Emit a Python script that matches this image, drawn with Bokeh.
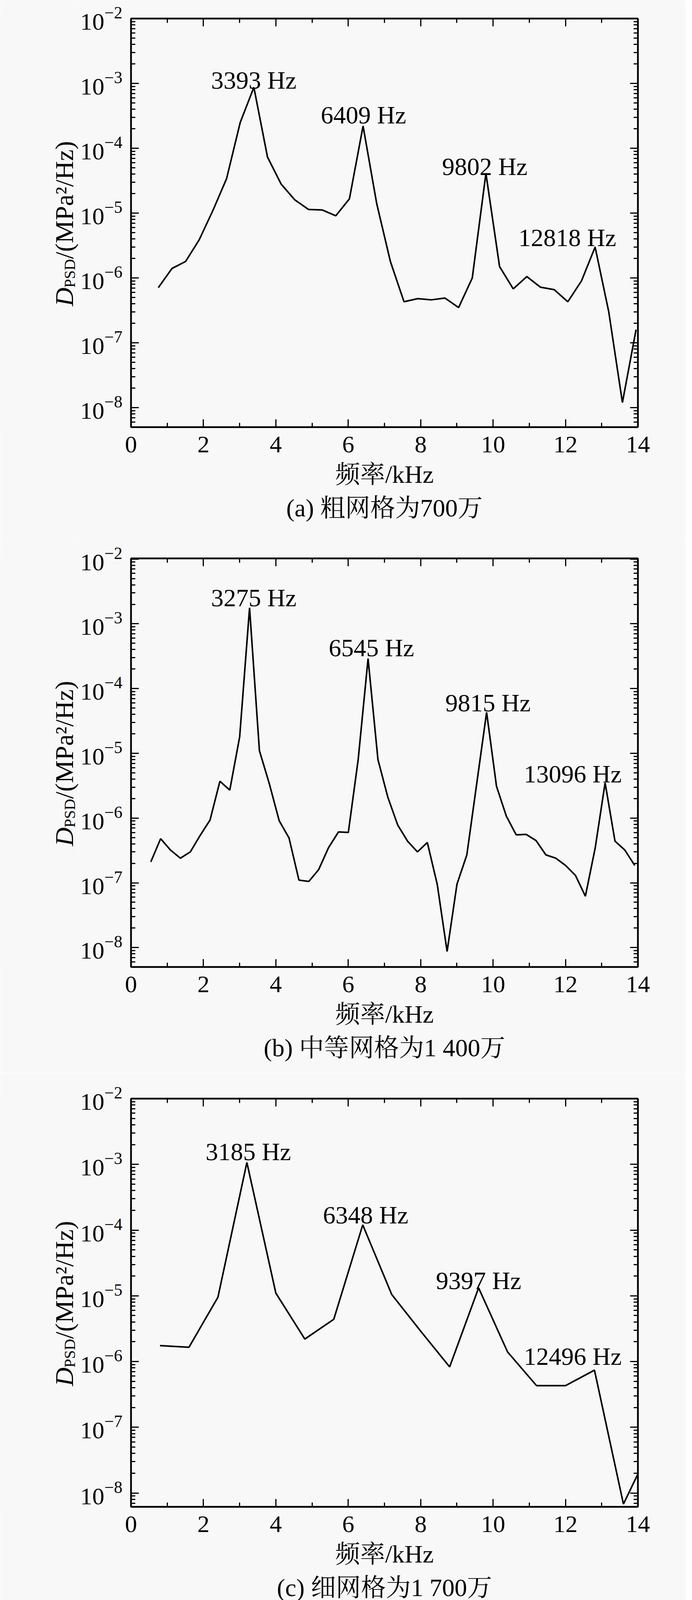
import math
from bokeh.plotting import figure
from bokeh.models import (Label, LinearAxis, LogAxis, FixedTicker,
                          CustomJSTickFormatter, Range1d)
from bokeh.core.properties import value
from bokeh.layouts import column, row
from bokeh.embed import file_html
from bokeh.resources import INLINE

# ---------------- data (frequency in kHz, PSD in MPa^2/Hz) ----------------
freq_a = [0.754, 1.131, 1.508, 1.885, 2.262, 2.639, 3.016, 3.393, 3.770, 4.147,
          4.524, 4.901, 5.278, 5.655, 6.032, 6.409, 6.786, 7.163, 7.540, 7.917,
          8.294, 8.671, 9.048, 9.425, 9.802, 10.179, 10.556, 10.933, 11.310,
          11.687, 12.064, 12.441, 12.818, 13.195, 13.572, 13.949]
psd_a = [7.1e-7, 1.4e-6, 1.8e-6, 3.9e-6, 1.1e-5, 3.4e-5, 2.5e-4, 8.7e-4, 7.3e-5,
         2.8e-5, 1.6e-5, 1.14e-5, 1.12e-5, 9.1e-6, 1.66e-5, 2.2e-4, 1.4e-5,
         1.8e-6, 4.3e-7, 4.8e-7, 4.6e-7, 4.9e-7, 3.5e-7, 1.0e-6, 4.1e-5, 1.5e-6,
         6.8e-7, 1.05e-6, 7.2e-7, 6.6e-7, 4.3e-7, 9.0e-7, 3.0e-6, 3.0e-7, 1.2e-8,
         1.6e-7]

freq_b = [0.546, 0.818, 1.091, 1.364, 1.637, 1.910, 2.182, 2.455, 2.728, 3.001,
          3.274, 3.546, 3.819, 4.092, 4.365, 4.638, 4.910, 5.183, 5.456, 5.729,
          6.002, 6.274, 6.547, 6.820, 7.093, 7.366, 7.638, 7.911, 8.184, 8.457,
          8.730, 9.002, 9.275, 9.548, 9.821, 10.094, 10.366, 10.639, 10.912,
          11.185, 11.458, 11.730, 12.003, 12.276, 12.549, 12.822, 13.094, 13.367,
          13.640, 13.913]
psd_b = [2.1e-7, 4.8e-7, 3.2e-7, 2.4e-7, 3.0e-7, 5.4e-7, 9.3e-7, 3.7e-6, 2.7e-6,
         1.8e-5, 1.77e-3, 1.1e-5, 3.4e-6, 9.1e-7, 4.9e-7, 1.1e-7, 1.05e-7, 1.6e-7,
         3.5e-7, 6.1e-7, 6.0e-7, 8.0e-6, 2.9e-4, 8.0e-6, 2.1e-6, 7.8e-7, 4.4e-7,
         3.0e-7, 4.2e-7, 9.5e-8, 8.7e-9, 9.5e-8, 2.7e-7, 3.4e-6, 4.3e-5, 3.1e-6,
         1.07e-6, 5.5e-7, 5.6e-7, 4.5e-7, 2.7e-7, 2.4e-7, 1.85e-7, 1.3e-7, 6.2e-8,
         3.5e-7, 3.5e-6, 4.4e-7, 3.2e-7, 1.85e-7]

freq_c = [0.8, 1.6, 2.4, 3.2, 4.0, 4.8, 5.6, 6.4, 7.2, 8.0, 8.8, 9.6, 10.4, 11.2,
          12.0, 12.8, 13.6, 14.0]
psd_c = [1.75e-6, 1.65e-6, 9.5e-6, 1.07e-3, 1.1e-5, 2.2e-6, 4.4e-6, 1.2e-4,
         1.05e-5, 2.9e-6, 8.3e-7, 1.32e-5, 1.4e-6, 4.3e-7, 4.3e-7, 7.4e-7, 6.8e-9,
         1.95e-8]

peaks_a = ["3393 Hz", "6409 Hz", "9802 Hz", "12818 Hz"]
peaks_b = ["3275 Hz", "6545 Hz", "9815 Hz", "13096 Hz"]
peaks_c = ["3185 Hz", "6348 Hz", "9397 Hz", "12496 Hz"]

captions = ["(a) 粗网格为700万", "(b) 中等网格为1 400万", "(c) 细网格为1 700万"]
x_title = "频率/kHz"
y_title_main, y_title_sub, y_title_rest = "D", "PSD", "/(MPa²/Hz)"
x_ticks = [0, 2, 4, 6, 8, 10, 12, 14]
x_minor = [1, 3, 5, 7, 9, 11, 13]
y_decades = [-8, -7, -6, -5, -4, -3, -2]

# ---------------- layout / style ----------------
SERIF = "Liberation Serif"
CJK = "Liberation Serif, Noto Serif CJK SC, Noto Sans CJK SC, sans-serif"
BG = "#f8f8f8"
PAGE_W, BLOCK_H = 1756, 1373
LEFT_W = 200            # strip holding the rotated y title
MAIN_W = PAGE_W - LEFT_W
FRAME_W = 1298
B_LEFT, B_RIGHT = 135, 123

# label anchors: (x centre in kHz, log10 of baseline)
anchors_a = [(3.39, -2.95), (6.42, -3.49), (9.77, -4.28), (12.05, -5.38)]
anchors_b = [(3.39, -2.60), (6.64, -3.37), (9.86, -4.22), (12.20, -5.32)]
anchors_c = [(3.24, -2.81), (6.48, -3.77), (9.60, -4.77), (12.20, -5.92)]

panels = [
    dict(f=freq_a, v=psd_a, names=peaks_a, anch=anchors_a, cap=captions[0],
         top=47, H=1046, ylo=-8.30, yhi=-2.00),
    dict(f=freq_b, v=psd_b, names=peaks_b, anch=anchors_b, cap=captions[1],
         top=56, H=1046, ylo=-8.30, yhi=-1.99),
    dict(f=freq_c, v=psd_c, names=peaks_c, anch=anchors_c, cap=captions[2],
         top=66, H=1045, ylo=-8.21, yhi=-2.00),
]

y_major = [10.0 ** e for e in y_decades]
y_minor = [m * 10.0 ** e for e in range(-9, -1) for m in range(2, 10)]

empty_fmt = "return ''"


def style_axis(ax, labels=True):
    ax.axis_line_width = 4
    ax.axis_line_color = "black"
    ax.major_tick_in = 20
    ax.major_tick_out = 0
    ax.minor_tick_in = 11
    ax.minor_tick_out = 0
    ax.major_tick_line_width = 3
    ax.minor_tick_line_width = 3
    ax.major_tick_line_color = "black"
    ax.minor_tick_line_color = "black"
    if labels:
        ax.major_label_text_font = SERIF
        ax.major_label_text_font_size = "62px"
        ax.major_label_text_color = "black"
    else:
        ax.major_label_text_font_size = "0px"
        ax.major_label_standoff = 0


def text_canvas(w, h, y0, y1):
    """Plain strip; its frame lines up with the neighbouring plot frame,
    so the y range is given in pixels from the block bottom (y0..y1)."""
    t = figure(width=w, height=h, x_range=Range1d(0, w), y_range=Range1d(y0, y1),
               x_axis_location=None, y_axis_location=None,
               output_backend="svg", toolbar_location=None, min_border=0)
    t.background_fill_color = BG
    t.border_fill_color = BG
    t.outline_line_color = None
    t.xgrid.visible = False
    t.ygrid.visible = False
    return t


def make_block(d):
    H = d["H"]
    ylo, yhi = d["ylo"], d["yhi"]
    bottom_border = BLOCK_H - d["top"] - H
    p = figure(width=MAIN_W, height=BLOCK_H, y_axis_type="log",
               x_range=Range1d(0, 14), y_range=Range1d(10 ** ylo, 10 ** yhi),
               output_backend="svg", toolbar_location=None,
               min_border_left=B_LEFT, min_border_right=B_RIGHT,
               min_border_top=d["top"], min_border_bottom=bottom_border)
    p.background_fill_color = BG
    p.border_fill_color = BG
    p.outline_line_color = "black"
    p.outline_line_width = 4
    p.xgrid.visible = False
    p.ygrid.visible = False

    xt = FixedTicker(ticks=x_ticks, minor_ticks=x_minor)
    yt = FixedTicker(ticks=y_major, minor_ticks=y_minor)

    xa = p.xaxis[0]
    xa.ticker = xt
    style_axis(xa)
    xa.major_label_standoff = 24
    xa.axis_label = x_title
    xa.axis_label_text_font = CJK
    xa.axis_label_text_font_size = "64px"
    xa.axis_label_text_font_style = "normal"
    xa.axis_label_text_color = "black"
    xa.axis_label_standoff = 18

    # caption: label of an extra, tick-less axis stacked below
    cap_ax = LinearAxis(ticker=FixedTicker(ticks=[]), axis_label=d["cap"],
                        axis_line_color=None, major_tick_line_color=None,
                        minor_tick_line_color=None)
    cap_ax.major_label_text_font_size = "0px"
    cap_ax.major_label_standoff = 0
    cap_ax.major_tick_out = 0
    cap_ax.minor_tick_out = 0
    cap_ax.axis_label_text_font = CJK
    cap_ax.axis_label_text_font_size = "64px"
    cap_ax.axis_label_text_font_style = "normal"
    cap_ax.axis_label_text_color = "black"
    cap_ax.axis_label_standoff = 12
    p.add_layout(cap_ax, "below")

    ya = p.yaxis[0]
    ya.ticker = yt
    style_axis(ya)
    ya.major_label_standoff = 22

    top = LinearAxis(ticker=xt, formatter=CustomJSTickFormatter(code=empty_fmt))
    style_axis(top, labels=False)
    p.add_layout(top, "above")
    right = LogAxis(ticker=yt, formatter=CustomJSTickFormatter(code=empty_fmt))
    style_axis(right, labels=False)
    p.add_layout(right, "right")

    p.line(d["f"], d["v"], line_color="black", line_width=4)

    for name, (xc, yb) in zip(d["names"], d["anch"]):
        p.add_layout(Label(x=xc, y=10 ** yb, text=name, text_font=SERIF,
                           text_font_size="64px", text_align="center",
                           text_baseline="alphabetic", text_color="black"))

    # ---- left strip: rotated y title D_PSD/(MPa²/Hz), drawn as text glyphs
    left = text_canvas(LEFT_W, BLOCK_H, bottom_border, BLOCK_H - d["top"])
    base_x = LEFT_W + B_LEFT - 171       # baseline of the main letters
    F, f_sub = 66, 40
    pieces = [
        (y_title_main, F, "italic", 0, 0.722 * F),
        (y_title_sub, f_sub, "normal", 14, 1.834 * f_sub),
        (y_title_rest, F, "normal", 0, 4.577 * F),
    ]
    total = sum(pc[4] for pc in pieces)
    centre_from_bottom = BLOCK_H - (d["top"] + H / 2) - 2
    pos = centre_from_bottom - total / 2
    for txt, size, style, dx, w in pieces:
        left.text(x=[base_x + dx], y=[pos], text=[txt], angle=math.pi / 2,
                  text_font=value(SERIF), text_font_size=value(f"{size}px"),
                  text_font_style=value(style), text_align="left",
                  text_baseline="alphabetic", text_color="black")
        pos += w
    return row(left, p, spacing=0)


blocks = [make_block(d) for d in panels]
layout = column(*blocks, spacing=0)

html = file_html(layout, INLINE, title="PSD")
html = html.replace("<body>", f'<body style="background:{BG};">', 1)
open("out.html", "w").write(html)
